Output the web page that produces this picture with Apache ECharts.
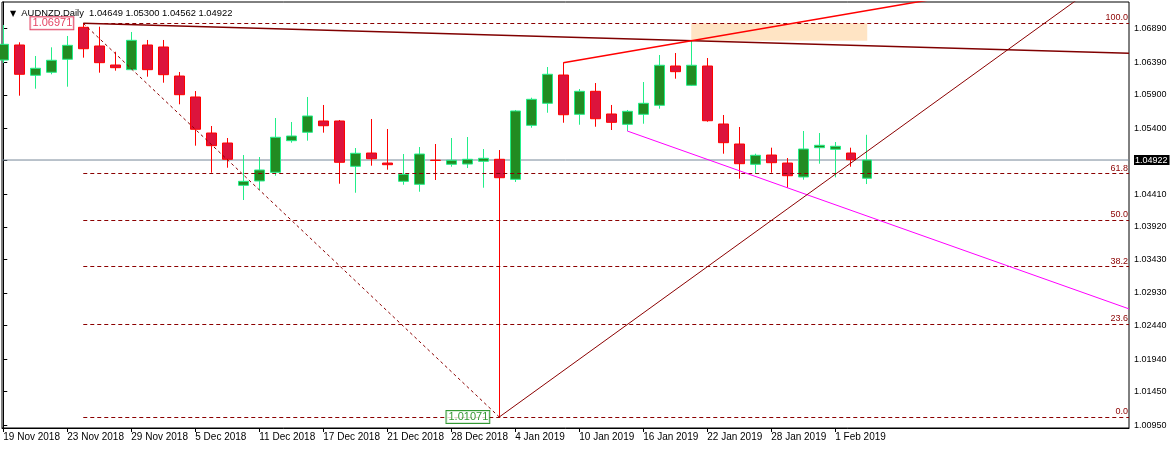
<!DOCTYPE html>
<html><head><meta charset="utf-8">
<script src="https://cdn.jsdelivr.net/npm/echarts@6/dist/echarts.min.js"></script>
<style>html,body{margin:0;padding:0;background:#fff}#c{width:1175px;height:449px}</style>
</head><body><div id="c"></div>
<script>
const dates = ['19 Nov 2018','20 Nov 2018','21 Nov 2018','22 Nov 2018','23 Nov 2018','26 Nov 2018','27 Nov 2018','28 Nov 2018','29 Nov 2018','30 Nov 2018',
'3 Dec 2018','4 Dec 2018','5 Dec 2018','6 Dec 2018','7 Dec 2018','10 Dec 2018','11 Dec 2018','12 Dec 2018','13 Dec 2018','14 Dec 2018',
'17 Dec 2018','18 Dec 2018','19 Dec 2018','20 Dec 2018','21 Dec 2018','24 Dec 2018','26 Dec 2018','27 Dec 2018','28 Dec 2018','31 Dec 2018',
'2 Jan 2019','3 Jan 2019','4 Jan 2019','7 Jan 2019','8 Jan 2019','9 Jan 2019','10 Jan 2019','11 Jan 2019','14 Jan 2019','15 Jan 2019',
'16 Jan 2019','17 Jan 2019','18 Jan 2019','21 Jan 2019','22 Jan 2019','23 Jan 2019','24 Jan 2019','25 Jan 2019','28 Jan 2019','29 Jan 2019',
'30 Jan 2019','31 Jan 2019','1 Feb 2019','4 Feb 2019','5 Feb 2019'];
const opens = [1.06421,1.06646,1.06192,1.06237,1.06432,1.06911,1.06631,1.06346,1.06276,1.06646,
1.06616,1.06181,1.05867,1.05327,1.05177,1.04543,1.04608,1.04738,1.05212,1.05338,
1.05507,1.05507,1.04828,1.05027,1.04877,1.04603,1.04558,1.04919,1.04858,1.04862,
1.04903,1.04933,1.04633,1.05442,1.05772,1.06196,1.05607,1.05952,1.05612,1.05457,
1.05607,1.05742,1.06331,1.06042,1.06331,1.05462,1.05162,1.04858,1.04997,1.04877,
1.04668,1.05107,1.05083,1.05027,1.04649];
const highs = [1.06946,1.06686,1.06481,1.06611,1.06781,1.06971,1.06920,1.06545,1.06841,1.06721,
1.06721,1.06241,1.05956,1.05432,1.05252,1.04997,1.04967,1.05552,1.05492,1.05867,
1.05747,1.05522,1.05102,1.05537,1.05387,1.05012,1.05117,1.05162,1.05252,1.05267,
1.05087,1.05072,1.05672,1.05856,1.06316,1.06381,1.05986,1.06076,1.05747,1.05672,
1.06091,1.06496,1.06526,1.06710,1.06451,1.05597,1.05417,1.05017,1.05107,1.04952,
1.05357,1.05327,1.05192,1.05107,1.05300];
const lows = [1.06376,1.05886,1.05991,1.06207,1.06021,1.06456,1.06231,1.06261,1.06270,1.06171,
1.06081,1.05757,1.05137,1.04732,1.04807,1.04323,1.04473,1.04687,1.05182,1.05212,
1.05332,1.04567,1.04432,1.04837,1.04777,1.04552,1.04447,1.04623,1.04822,1.04802,
1.04507,1.01071,1.04593,1.05406,1.05631,1.05481,1.05451,1.05421,1.05372,1.05357,
1.05466,1.05691,1.06141,1.06031,1.05496,1.05017,1.04642,1.04723,1.04732,1.04507,
1.04627,1.04867,1.04663,1.04822,1.04562];
const closes = [1.06656,1.06207,1.06297,1.06417,1.06641,1.06590,1.06381,1.06306,1.06716,1.06276,
1.06201,1.05901,1.05383,1.05137,1.04933,1.04603,1.04773,1.05263,1.05282,1.05582,
1.05436,1.04888,1.05023,1.04942,1.04852,1.04708,1.05012,1.04916,1.04918,1.04933,
1.04948,1.04657,1.05657,1.05832,1.06207,1.05601,1.05952,1.05541,1.05487,1.05652,
1.05772,1.06342,1.06246,1.06342,1.05511,1.05182,1.04867,1.04993,1.04882,1.04687,
1.05087,1.05143,1.05128,1.04927,1.04922];
const yTickLabels = ['1.06890','1.06390','1.05900','1.05400','1.04922','1.04410','1.03920','1.03430','1.02930','1.02440','1.01940','1.01450','1.00950'];
const xTickIndices = [0,4,8,12,16,20,24,28,32,36,40,44,48,52];
const symbolName = 'AUDNZD';
const periodName = 'Daily';
const lastPrice = 1.04922;
const fibHigh = [5, 1.06971];
const fibLow = [31, 1.01071];
const fibLevels = [100, 61.8, 50, 38.2, 23.6, 0];
const maroonTrend = [[5, 1.06971], [43, 1.06710]];
const redTrend = [[35, 1.06381], [43, 1.06710]];
const magentaTrend = [[39, 1.05357], [49, 1.04507]];
const riseTrend = [[31, 1.01071], [54, 1.05054]];
const zoneBox = [[43, 1.06971], [54, 1.06710]];

const X_MIN = -0.08, X_MAX = 70.36;
const Y_MIN = 1.009063, Y_MAX = 1.072902;
const FONT = 'Liberation Sans';

function ray(a, b) {
  const s = (b[1] - a[1]) / (b[0] - a[0]);
  return [a, [X_MAX, a[1] + s * (X_MAX - a[0])]];
}
const candleData = dates.map((d, i) => [i, opens[i], closes[i], lows[i], highs[i]]);
const yVals = yTickLabels.map(Number);
const last = dates.length - 1;
const titleText = symbolName + ',' + periodName + '  ' + [opens[last], highs[last], lows[last], closes[last]].map(v => v.toFixed(5)).join(' ');

const chart = echarts.init(document.getElementById('c'));
function lineSeries(data, color, width, z, type) {
  return {type: 'line', data: data, symbol: 'none', silent: true, z: z, clip: true,
    lineStyle: {color: color, width: width, type: type || 'solid'}, animation: false};
}
const fibPrice = l => fibLow[1] + (fibHigh[1] - fibLow[1]) * l / 100;

chart.setOption({
  animation: false,
  backgroundColor: '#ffffff',
  title: {
    text: '{t|▼}  ' + titleText, left: 5, top: 4,
    textStyle: {fontFamily: FONT, fontSize: 9.4, fontWeight: 'normal', color: '#000',
      rich: {t: {fontFamily: 'DejaVu Sans', fontSize: 8, color: '#000'}}}
  },
  grid: {left: 2, top: 2, right: 46, bottom: 21, show: true, borderColor: '#000', borderWidth: 1},
  xAxis: {
    type: 'value', min: X_MIN, max: X_MAX,
    splitLine: {show: false},
    axisLine: {show: true, onZero: false, lineStyle: {color: '#000'}},
    axisTick: {show: true, customValues: xTickIndices, length: 4, lineStyle: {color: '#000'}},
    axisLabel: {customValues: xTickIndices, formatter: v => dates[Math.round(v)], align: 'left',
      margin: 4, fontSize: 10, color: '#000', fontFamily: FONT}
  },
  yAxis: {
    type: 'value', position: 'right', min: Y_MIN, max: Y_MAX, scale: true,
    splitLine: {show: false},
    axisLine: {show: true, lineStyle: {color: '#000'}},
    axisTick: {show: true, customValues: yVals, length: 4, lineStyle: {color: '#000'}},
    axisLabel: {customValues: yVals, margin: 5, fontSize: 9, color: '#000', fontFamily: FONT,
      formatter: v => Math.abs(v - lastPrice) < 1e-7 ? '{cur|' + v.toFixed(5) + '}' : v.toFixed(5),
      rich: {cur: {backgroundColor: '#000', color: '#fff', fontSize: 9, fontFamily: FONT, padding: [1, 2, 0, 1]}}}
  },
  series: [
    Object.assign(lineSeries(zoneBox, 'rgba(0,0,0,0)', 0, 1), {
      markArea: {silent: true, itemStyle: {color: '#FFE4C4'},
        data: [[{coord: zoneBox[0]}, {coord: zoneBox[1]}]]}
    }),
    lineSeries([[X_MIN, lastPrice], [X_MAX, lastPrice]], '#778899', 1, 2),
    {
      type: 'candlestick', data: candleData, encode: {x: 0, y: [1, 2, 3, 4]}, barWidth: 10, z: 3,
      silent: true,
      itemStyle: {color: '#228B22', color0: '#DC143C', borderColor: '#22EE88', borderColor0: '#FF0000', borderWidth: 1}
    },
    Object.assign(lineSeries([fibHigh, fibLow], '#8B0000', 1, 5, [3, 3]), {
      markLine: {silent: true, symbol: ['none', 'none'], animation: false,
        lineStyle: {color: '#8B0000', width: 1, type: [4, 3]},
        label: {show: true, position: 'insideEndTop', formatter: '{b}', color: '#8B0000', fontSize: 9, fontFamily: FONT, distance: 1},
        data: fibLevels.map(l => [{coord: [fibHigh[0], fibPrice(l)], name: l.toFixed(1)}, {coord: [X_MAX, fibPrice(l)]}])}
    }),
    lineSeries(ray(maroonTrend[0], maroonTrend[1]), '#800000', 1.5, 6),
    lineSeries(ray(redTrend[0], redTrend[1]), '#FF0000', 1.5, 6),
    lineSeries(ray(magentaTrend[0], magentaTrend[1]), '#FF00FF', 1, 6),
    lineSeries(ray(riseTrend[0], riseTrend[1]), '#8B0000', 1, 6),
    {
      type: 'scatter', symbolSize: 0, silent: true, z: 8,
      data: [
        {value: fibHigh, label: {color: '#DC143C', borderColor: '#DC143C'}},
        {value: fibLow, label: {color: '#008000', borderColor: '#008000'}}
      ],
      label: {show: true, position: 'left', distance: 10, formatter: p => p.value[1].toFixed(5),
        fontSize: 11, fontFamily: FONT, backgroundColor: '#fff', borderWidth: 1, padding: [1, 1, 0, 2]}
    }
  ]
});
</script></body></html>
